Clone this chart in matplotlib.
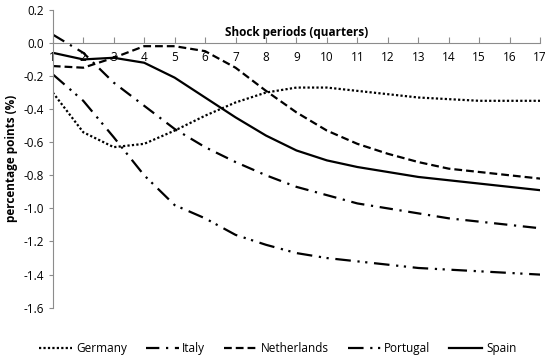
import matplotlib
matplotlib.use("Agg")
import matplotlib.pyplot as plt

periods = list(range(1, 18))
germany = [-0.30, -0.54, -0.63, -0.61, -0.53, -0.44, -0.36, -0.30, -0.27, -0.27, -0.29, -0.31, -0.33, -0.34, -0.35, -0.35, -0.35]
italy = [0.05, -0.06, -0.24, -0.38, -0.52, -0.63, -0.72, -0.80, -0.87, -0.92, -0.97, -1.00, -1.03, -1.06, -1.08, -1.10, -1.12]
netherlands = [-0.14, -0.15, -0.09, -0.02, -0.02, -0.05, -0.15, -0.29, -0.42, -0.53, -0.61, -0.67, -0.72, -0.76, -0.78, -0.80, -0.82]
portugal = [-0.19, -0.35, -0.57, -0.80, -0.98, -1.06, -1.16, -1.22, -1.27, -1.30, -1.32, -1.34, -1.36, -1.37, -1.38, -1.39, -1.40]
spain = [-0.06, -0.10, -0.09, -0.12, -0.21, -0.33, -0.45, -0.56, -0.65, -0.71, -0.75, -0.78, -0.81, -0.83, -0.85, -0.87, -0.89]
yticks = [0.2, 0.0, -0.2, -0.4, -0.6, -0.8, -1.0, -1.2, -1.4, -1.6]

plt.rcParams['font.family'] = ['Open Sans', 'DejaVu Sans']

fig = plt.figure(figsize=(5.5, 3.62), dpi=100)
ax = fig.add_axes([0.096, 0.15, 0.886, 0.823])

lw = 1.6
ax.plot(periods, germany, color='black', lw=lw, linestyle=(0, (1, 1)), label='Germany')
ax.plot(periods, italy, color='black', lw=lw, linestyle=(0, (6, 3, 1, 3)), label='Italy')
ax.plot(periods, netherlands, color='black', lw=lw, linestyle=(0, (3.5, 1.8)), label='Netherlands')
ax.plot(periods, portugal, color='black', lw=lw, linestyle=(0, (7, 3, 1, 2.5, 1, 3)), label='Portugal')
ax.plot(periods, spain, color='black', lw=lw, linestyle='-', label='Spain')

ax.set_xlim(1, 17)
ax.set_ylim(-1.6, 0.2)
ax.set_xticks(periods)
ax.set_yticks(yticks)
ax.set_yticklabels([f"{v:.1f}" for v in yticks])

for s in ['top', 'right']:
    ax.spines[s].set_visible(False)
ax.spines['bottom'].set_position(('data', 0))
ax.spines['bottom'].set_color('#8c8c8c')
ax.spines['left'].set_color('#8c8c8c')
ax.tick_params(axis='x', direction='in', length=4, color='#8c8c8c', labelsize=8.5, pad=6)
ax.tick_params(axis='y', direction='out', length=3, color='#8c8c8c', labelsize=8.5)

ax.set_ylabel('percentage points (%)', fontsize=8.5, fontweight='bold', labelpad=4)
ax.text(9.0, 0.025, 'Shock periods (quarters)', ha='center', va='bottom',
        fontsize=8.5, fontweight='bold')

fig.legend(loc='lower center', ncol=5, frameon=False, fontsize=8.5,
           bbox_to_anchor=(0.505, -0.01), handlelength=2.8, columnspacing=1.6, handletextpad=0.3)

fig.savefig('out.png', dpi=100)
